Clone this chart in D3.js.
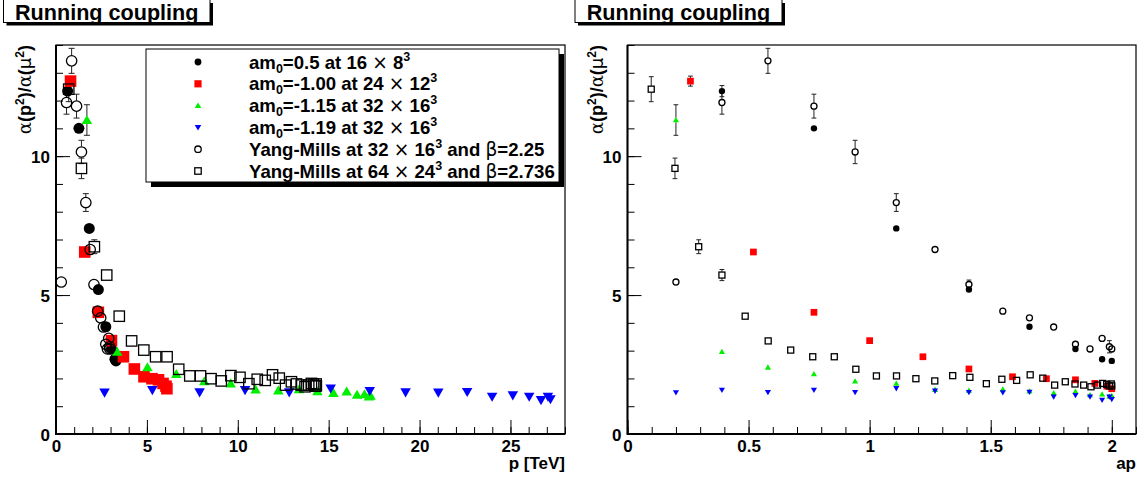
<!DOCTYPE html>
<html><head><meta charset="utf-8">
<script src="https://cdn.jsdelivr.net/npm/d3@7"></script>
<style>
html,body{margin:0;padding:0;background:#fff;}
text{font-family:"Liberation Sans",Arial,Helvetica,sans-serif;font-weight:bold;}
</style></head>
<body>
<script>
// ---------------- DATA ----------------
// am0=0.5 at 16x8^3
const apBlack = [0.39, 0.77, 1.11, 1.41, 1.66, 1.85, 1.96, 2.0];
const pBlack  = [0.64, 1.26, 1.83, 2.33, 2.74, 3.05, 3.24, 3.30];
const yBlack  = [12.34, 11.0, 7.40, 5.20, 3.86, 3.06, 2.69, 2.63];
const eBlack  = [0.20, 0.12, 0.08, 0.10, 0.06, 0.05, 0.05, 0.05];
// am0=-1.00 at 24x12^3
const apRed = [0.26, 0.52, 0.77, 1.0, 1.22, 1.41, 1.59, 1.73, 1.85, 1.93, 1.98, 2.0];
const pRed  = [0.80, 1.58, 2.33, 3.05, 3.71, 4.31, 4.84, 5.28, 5.64, 5.89, 6.05, 6.10];
const yRed  = [12.70, 6.55, 4.38, 3.36, 2.78, 2.34, 2.06, 1.99, 1.95, 1.82, 1.72, 1.63];
const eRed  = [0.18, 0.06, 0.10, 0.04, 0.03, 0.03, 0.03, 0.03, 0.03, 0.03, 0.03, 0.03];
// am0=-1.15 at 32x16^3
const apGreen = [0.20, 0.39, 0.58, 0.77, 0.94, 1.11, 1.27, 1.41, 1.55, 1.66, 1.76, 1.85, 1.91, 1.96, 1.99, 2.0];
const pGreen  = [1.70, 3.37, 5.03, 6.62, 8.16, 9.61, 10.98, 12.23, 13.37, 14.38, 15.26, 15.99, 16.56, 16.97, 17.21, 17.30];
const yGreen  = [11.30, 2.96, 2.40, 2.16, 1.90, 1.82, 1.60, 1.57, 1.61, 1.54, 1.48, 1.53, 1.41, 1.43, 1.35, 1.38];
const eGreen  = [0.55, 0.05, 0.04, 0.04, 0.04, 0.06, 0.04, 0.04, 0.06, 0.04, 0.04, 0.06, 0.04, 0.06, 0.04, 0.04];
// am0=-1.19 at 32x16^3
const apBlue = [0.20, 0.39, 0.58, 0.77, 0.94, 1.11, 1.27, 1.41, 1.55, 1.66, 1.76, 1.85, 1.91, 1.96, 1.99, 2.0];
const pBlue  = [2.67, 5.30, 7.90, 10.40, 12.83, 15.11, 17.26, 19.23, 21.03, 22.62, 23.99, 25.13, 26.03, 26.68, 27.06, 27.20];
const yBlue  = [1.49, 1.58, 1.50, 1.58, 1.50, 1.64, 1.55, 1.50, 1.49, 1.51, 1.34, 1.39, 1.34, 1.22, 1.34, 1.25];
const eBlue  = [0.03, 0.03, 0.03, 0.03, 0.03, 0.05, 0.04, 0.04, 0.04, 0.04, 0.04, 0.04, 0.04, 0.06, 0.04, 0.05];
// Yang-Mills at 32x16^3, beta=2.25
const apCirc = [0.20, 0.39, 0.58, 0.77, 0.94, 1.11, 1.27, 1.41, 1.55, 1.66, 1.76, 1.85, 1.91, 1.96, 1.99, 2.0];
const pCirc  = [0.29, 0.58, 0.86, 1.13, 1.40, 1.64, 1.88, 2.09, 2.29, 2.46, 2.61, 2.74, 2.83, 2.90, 2.95, 2.96];
const yCirc  = [5.47, 11.93, 13.43, 11.80, 10.15, 8.33, 6.64, 5.38, 4.42, 4.18, 3.85, 3.23, 3.06, 3.44, 3.14, 3.06];
const eCirc  = [0.04, 0.42, 0.45, 0.43, 0.42, 0.32, 0.14, 0.16, 0.12, 0.10, 0.08, 0.10, 0.08, 0.13, 0.22, 0.12];
// Yang-Mills at 64x24^3, beta=2.736
const apSq = [0.098, 0.196, 0.294, 0.39, 0.486, 0.581, 0.674, 0.765, 0.854, 0.943, 1.028, 1.111, 1.191, 1.269, 1.343, 1.414,
              1.482, 1.546, 1.607, 1.663, 1.715, 1.764, 1.808, 1.848, 1.884, 1.914, 1.941, 1.962, 1.979, 1.990, 1.998, 2.0];
const pSq  = [0.70, 1.40, 2.11, 2.79, 3.48, 4.16, 4.83, 5.48, 6.11, 6.75, 7.36, 7.95, 8.53, 9.09, 9.62, 10.12,
              10.61, 11.07, 11.51, 11.91, 12.28, 12.63, 12.95, 13.23, 13.49, 13.70, 13.90, 14.05, 14.17, 14.25, 14.31, 14.32];
const ySq  = [12.41, 9.56, 6.74, 5.72, 4.24, 3.35, 3.02, 2.78, 2.78, 2.33, 2.09, 2.09, 1.99, 1.91, 2.10, 2.04,
              1.81, 1.97, 1.93, 2.13, 2.01, 1.76, 1.88, 1.80, 1.76, 1.70, 1.76, 1.82, 1.79, 1.73, 1.80, 1.73];
const eSq  = [0.45, 0.37, 0.25, 0.20, 0.06, 0.05, 0.04, 0.04, 0.04, 0.04, 0.03, 0.03, 0.03, 0.03, 0.03, 0.03,
              0.03, 0.03, 0.03, 0.03, 0.03, 0.03, 0.03, 0.03, 0.03, 0.03, 0.03, 0.03, 0.03, 0.03, 0.03, 0.03];

const yTickLabels = ["0", "5", "10"];
const yTickValues = [0, 5, 10];
const xTickLabelsP = ["0", "5", "10", "15", "20", "25"];
const xTickValuesP = [0, 5, 10, 15, 20, 25];
const xTickLabelsA = ["0", "0.5", "1", "1.5", "2"];
const xTickValuesA = [0, 0.5, 1, 1.5, 2];

const panelTitle = "Running coupling";
const xTitleP = "p [TeV]";
const xTitleA = "ap";

// legend labels as rich segments
const legendLabels = [
  [["am"],["0","sub"],["=0.5 at 16 "],["\u00D7","sym"],[" 8"],["3","sup"]],
  [["am"],["0","sub"],["=-1.00 at 24 "],["\u00D7","sym"],[" 12"],["3","sup"]],
  [["am"],["0","sub"],["=-1.15 at 32 "],["\u00D7","sym"],[" 16"],["3","sup"]],
  [["am"],["0","sub"],["=-1.19 at 32 "],["\u00D7","sym"],[" 16"],["3","sup"]],
  [["Yang-Mills at 32 "],["\u00D7","sym"],[" 16"],["3","sup"],[" and "],["\u03B2","sym"],["=2.25"]],
  [["Yang-Mills at 64 "],["\u00D7","sym"],[" 24"],["3","sup"],[" and "],["\u03B2","sym"],["=2.736"]]
];

// ---------------- DRAW ----------------
const W = 1145, H = 479;
const svg = d3.select("body").append("svg").attr("width", W).attr("height", H)
  .style("display","block");
svg.append("rect").attr("width", W).attr("height", H).attr("fill", "#fff");

const series = [
  {name:"black", shape:"dot",   color:"#000", ap:apBlack, p:pBlack, y:yBlack, e:eBlack},
  {name:"red",   shape:"square",color:"#ff0000", ap:apRed, p:pRed, y:yRed, e:eRed},
  {name:"green", shape:"tri",   color:"#00ee00", ap:apGreen, p:pGreen, y:yGreen, e:eGreen},
  {name:"blue",  shape:"tridown",color:"#0000ff", ap:apBlue, p:pBlue, y:yBlue, e:eBlue},
  {name:"circ",  shape:"circle",color:"#000", ap:apCirc, p:pCirc, y:yCirc, e:eCirc},
  {name:"sq",    shape:"osquare",color:"#000", ap:apSq, p:pSq, y:ySq, e:eSq}
];

const yTop = 45, yBot = 434;
const yScale = d3.scaleLinear().domain([0, 14]).range([yBot, yTop]);

const panels = [
  {x0:56, x1:565, dom:[0,28], key:"p", minor:d3.range(0, 28.01, 1), major:xTickValuesP, labels:xTickLabelsP,
   xTitle:xTitleP, size:1, titleBox:[3.5, 210]},
  {x0:627.5, x1:1136, dom:[0,2.1], key:"ap", minor:d3.range(0, 2.101, 0.1), major:xTickValuesA, labels:xTickLabelsA,
   xTitle:xTitleA, size:0.58, titleBox:[575, 782]}
];

function drawMarker(g, shape, color, cx, cy, s) {
  if (shape === "dot") {
    g.append("circle").attr("cx", cx).attr("cy", cy).attr("r", 5.5*s).attr("fill", color);
  } else if (shape === "circle") {
    g.append("circle").attr("cx", cx).attr("cy", cy).attr("r", 5.2*s).attr("fill", "none")
      .attr("stroke", color).attr("stroke-width", 1.3);
  } else if (shape === "square") {
    const h = 5.8*s;
    g.append("rect").attr("x", cx-h).attr("y", cy-h).attr("width", 2*h).attr("height", 2*h).attr("fill", color);
  } else if (shape === "osquare") {
    const h = 5.2*s;
    g.append("rect").attr("x", cx-h).attr("y", cy-h).attr("width", 2*h).attr("height", 2*h).attr("fill", "none")
      .attr("stroke", color).attr("stroke-width", 1.3);
  } else if (shape === "tri") {
    g.append("path").attr("d", d3.symbol().type(d3.symbolTriangle).size(48*s*s)())
      .attr("transform", `translate(${cx},${cy+1*s})`).attr("fill", color);
  } else if (shape === "tridown") {
    g.append("path").attr("d", d3.symbol().type(d3.symbolTriangle).size(48*s*s)())
      .attr("transform", `translate(${cx},${cy-1*s}) rotate(180)`).attr("fill", color);
  }
}

function styleTickText(sel) {
  sel.attr("font-size", 17).attr("font-family", '"Liberation Sans",Arial,sans-serif')
     .attr("font-weight","bold").attr("fill","#000");
}

panels.forEach(P => {
  const xScale = d3.scaleLinear().domain(P.dom).range([P.x0, P.x1]);
  const g = svg.append("g");

  // minor ticks (inward)
  g.append("g").attr("transform", `translate(0,${yBot})`)
    .call(d3.axisBottom(xScale).tickValues(P.minor).tickSize(-7).tickFormat(""))
    .call(a => { a.select(".domain").remove(); a.selectAll("line").attr("stroke","#000").attr("stroke-width",1); });
  // major ticks + labels
  g.append("g").attr("transform", `translate(0,${yBot})`)
    .call(d3.axisBottom(xScale).tickValues(P.major).tickSize(-14).tickPadding(0)
          .tickFormat((d,i) => P.labels[i]))
    .call(a => {
      a.select(".domain").remove();
      a.selectAll("line").attr("stroke","#000").attr("stroke-width",1);
      a.selectAll("text").attr("y", 18).attr("dy", 0).call(styleTickText);
    });

  // y minor
  g.append("g").attr("transform", `translate(${P.x0},0)`)
    .call(d3.axisLeft(yScale).tickValues(d3.range(0, 14.01, 1)).tickSize(-7).tickFormat(""))
    .call(a => { a.select(".domain").remove(); a.selectAll("line").attr("stroke","#000").attr("stroke-width",1); });
  g.append("g").attr("transform", `translate(${P.x0},0)`)
    .call(d3.axisLeft(yScale).tickValues(yTickValues).tickSize(-14).tickPadding(0)
          .tickFormat((d,i) => yTickLabels[i]))
    .call(a => {
      a.select(".domain").remove();
      a.selectAll("line").attr("stroke","#000").attr("stroke-width",1);
      a.selectAll("text").attr("x", -6).attr("dy", "0.36em").call(styleTickText);
    });

  // frame
  g.append("rect").attr("x", P.x0).attr("y", yTop).attr("width", P.x1-P.x0).attr("height", yBot-yTop)
    .attr("fill","none").attr("stroke","#000").attr("stroke-width",1.2);
  g.append("line").attr("x1",P.x0).attr("x2",P.x0).attr("y1",yTop).attr("y2",yBot+1).attr("stroke","#000").attr("stroke-width",2);
  g.append("line").attr("x1",P.x0).attr("x2",P.x1).attr("y1",yBot).attr("y2",yBot).attr("stroke","#000").attr("stroke-width",2);

  // axis titles
  g.append("text").attr("x", P.x1).attr("y", 469).attr("text-anchor","end").attr("font-size",17).text(P.xTitle);
  const yt = g.append("text").attr("transform", `translate(${P.x0-25},${yTop}) rotate(-90)`)
    .attr("text-anchor","end").attr("font-size",18);
  yt.append("tspan").attr("font-weight","normal").attr("font-family",'"DejaVu Serif",serif').text("\u03B1");
  yt.append("tspan").text("(p");
  yt.append("tspan").attr("font-size",12).attr("dy",-7).text("2");
  yt.append("tspan").attr("dy",7).text(")/");
  yt.append("tspan").attr("font-weight","normal").attr("font-family",'"DejaVu Serif",serif').text("\u03B1");
  yt.append("tspan").text("(");
  yt.append("tspan").attr("font-weight","normal").attr("font-family",'"DejaVu Sans",sans-serif').text("\u03BC");
  yt.append("tspan").attr("font-size",12).attr("dy",-7).text("2");
  yt.append("tspan").attr("dy",7).text(")");

  // data: error bars then markers
  const s = P.size;
  const dg = g.append("g");
  series.forEach(S => {
    const xs = S[P.key];
    const mr = (S.shape === "tri" || S.shape === "tridown") ? 4*s : 5.5*s;
    xs.forEach((xv, i) => {
      const cx = xScale(xv), cy = yScale(S.y[i]);
      const yhi = yScale(S.y[i] + S.e[i]), ylo = yScale(S.y[i] - S.e[i]);
      const cap = 3*Math.max(s,0.8);
      if (cy - yhi > mr + 1) {
        dg.append("line").attr("x1",cx).attr("x2",cx).attr("y1",yhi).attr("y2",cy-mr).attr("stroke","#222").attr("stroke-width",1);
        dg.append("line").attr("x1",cx-cap).attr("x2",cx+cap).attr("y1",yhi).attr("y2",yhi).attr("stroke","#222").attr("stroke-width",1);
      }
      if (ylo - cy > mr + 1) {
        dg.append("line").attr("x1",cx).attr("x2",cx).attr("y1",cy+mr).attr("y2",ylo).attr("stroke","#222").attr("stroke-width",1);
        dg.append("line").attr("x1",cx-cap).attr("x2",cx+cap).attr("y1",ylo).attr("y2",ylo).attr("stroke","#222").attr("stroke-width",1);
      }
    });
  });
  series.forEach(S => {
    S[P.key].forEach((xv, i) => drawMarker(dg, S.shape, S.color, xScale(xv), yScale(S.y[i]), s));
  });

  // title box with shadow
  const [tx0, tx1] = P.titleBox;
  svg.append("rect").attr("x", tx0+3).attr("y", 3).attr("width", tx1-tx0).attr("height", 22.5).attr("fill","#000");
  svg.append("rect").attr("x", tx0).attr("y", -1).attr("width", tx1-tx0).attr("height", 23.5)
    .attr("fill","#fff").attr("stroke","#000").attr("stroke-width",1);
  svg.append("text").attr("x", (tx0+tx1)/2).attr("y", 20).attr("text-anchor","middle")
    .attr("font-size", 21.6).text(panelTitle);
});

// legend (left panel)
const lg = svg.append("g");
const lx0 = 146, lx1 = 559, ly0 = 49, ly1 = 182;
lg.append("rect").attr("x", lx0+5).attr("y", ly0+5).attr("width", lx1-lx0).attr("height", ly1-ly0).attr("fill","#000");
lg.append("rect").attr("x", lx0).attr("y", ly0).attr("width", lx1-lx0).attr("height", ly1-ly0)
  .attr("fill","#fff").attr("stroke","#000").attr("stroke-width",1);
const rowY = d3.scalePoint().domain(d3.range(series.length)).range([62, 171]);
series.forEach((S, i) => {
  const cy = rowY(i);
  drawMarker(lg, S.shape, S.color, 198, cy, 0.62);
  const t = lg.append("text").attr("x", 249).attr("y", cy + 6.5).attr("font-size", 18.6);
  let pending = 0;
  legendLabels[i].forEach(seg => {
    const [txt, kind] = seg;
    if (kind === "sub") {
      t.append("tspan").attr("font-size", 12.5).attr("dy", pending + 4).text(txt);
      pending = -4;
    } else if (kind === "sup") {
      t.append("tspan").attr("font-size", 12.5).attr("dy", pending - 8).text(txt);
      pending = 8;
    } else if (kind === "sym") {
      t.append("tspan").attr("font-weight","normal").attr("font-family",'"DejaVu Sans",sans-serif')
        .attr("dy", pending).text(txt);
      pending = 0;
    } else {
      t.append("tspan").attr("dy", pending).text(txt);
      pending = 0;
    }
  });
});
</script>
</body></html>
